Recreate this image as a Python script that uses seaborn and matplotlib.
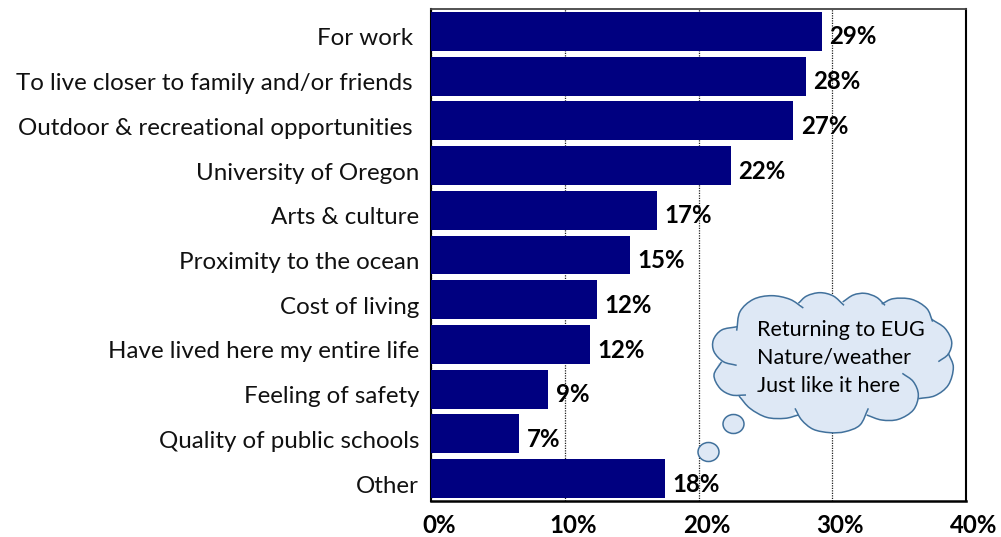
import numpy as np
import pandas as pd
import matplotlib
matplotlib.use("Agg")
import matplotlib.pyplot as plt
from matplotlib.path import Path
from matplotlib.patches import PathPatch, Ellipse
from matplotlib.transforms import Affine2D, ScaledTranslation
import seaborn as sns

categories = ["For work ", "To live closer to family and/or friends ",
              "Outdoor & recreational opportunities ", "University of Oregon",
              "Arts & culture", "Proximity to the ocean", "Cost of living",
              "Have lived here my entire life", "Feeling of safety",
              "Quality of public schools", "Other"]
values = [29.2, 28.0, 27.1, 22.4, 16.9, 14.9, 12.4, 11.9, 8.75, 6.6, 17.5]
value_labels = ["29%", "28%", "27%", "22%", "17%", "15%", "12%", "12%", "9%", "7%", "18%"]
x_ticks = [0, 10, 20, 30, 40]
x_tick_labels = ["0%", "10%", "20%", "30%", "40%"]
cloud_lines = ["Returning to EUG", "Nature/weather", "Just like it here"]

W, H = 1001, 537
sns.set_theme(style="white")
plt.rcParams['font.family'] = ['Lato', 'DejaVu Sans']
fig = plt.figure(figsize=(W / 100, H / 100), dpi=100)
L, R, T, B = 431, 966, 9, 501
ax = fig.add_axes([L / W, 1 - B / H, (R - L) / W, (B - T) / H])

df = pd.DataFrame({"reason": categories, "share": values})
sns.barplot(data=df, y="reason", x="share", orient="h", color="#000080",
            saturation=1, width=0.87, ax=ax, zorder=3, linewidth=0)
ax.set_xlim(0, 40)
ax.set_ylim(len(categories) - 0.5, -0.5)
ax.set_xlabel("")
ax.set_ylabel("")
ax.xaxis.grid(True, color="#222222", linestyle=(0, (1, 1)), linewidth=0.9, zorder=1)
ax.yaxis.grid(False)
ax.set_axisbelow(True)
ax.set_xticks(x_ticks)
ax.set_xticklabels(x_tick_labels, fontsize=17.3, fontweight="bold", color="black")
ax.tick_params(axis="x", length=0, pad=9.5)
ax.tick_params(axis="y", length=0, pad=8.5, labelsize=17.4, labelcolor="#111111")
down = ScaledTranslation(0, -5.5 / 100, fig.dpi_scale_trans)
for t in ax.get_yticklabels():
    t.set_transform(t.get_transform() + down)
right = ScaledTranslation(8 / 100, 0, fig.dpi_scale_trans)
for t in ax.get_xticklabels():
    t.set_transform(t.get_transform() + right)
for s, lw, c in [("left", 1.5, "black"), ("right", 1.5, "black"),
                 ("bottom", 1.8, "black"), ("top", 1.3, "#444444")]:
    ax.spines[s].set_visible(True)
    ax.spines[s].set_linewidth(lw)
    ax.spines[s].set_color(c)

for i, (v, lab) in enumerate(zip(values, value_labels)):
    ax.annotate(lab, (v, i), xytext=(5.4, -4), textcoords="offset points",
                ha="left", va="center", fontsize=17.3, fontweight="bold",
                color="black", zorder=5)

# Thought-cloud decoration, in pixels of the picture
px = Affine2D().scale(1, -1).translate(0, H)
def Z(p):
    p = np.asarray(p, float)
    return p / 3 + np.array([690, 280])

def smooth(pts):
    pts = Z(pts)
    P = np.vstack([2 * pts[0] - pts[1], pts, 2 * pts[-1] - pts[-2]])
    verts = [P[1]]
    codes = [Path.MOVETO]
    for i in range(1, len(P) - 2):
        verts += [P[i] + (P[i + 1] - P[i - 1]) / 6, P[i + 1] - (P[i + 2] - P[i]) / 6, P[i + 1]]
        codes += [Path.CURVE4] * 3
    return np.array(verts), codes

lobes = [
    [(140, 152), (150, 95), (190, 58), (245, 47), (300, 58), (340, 84)],
    [(325, 70), (350, 48), (390, 38), (430, 48), (462, 76)],
    [(458, 66), (490, 45), (525, 40), (560, 52), (585, 76)],
    [(575, 72), (610, 56), (665, 58), (710, 85), (728, 125)],
    [(725, 118), (765, 145), (785, 185), (775, 222), (745, 245)],
    [(775, 220), (790, 262), (775, 315), (735, 347), (685, 356)],
    [(637, 280), (670, 305), (685, 345), (670, 390), (625, 418), (575, 420), (530, 405)],
    [(535, 385), (510, 435), (465, 455), (420, 458), (370, 448), (335, 420), (315, 385)],
    [(325, 405), (285, 415), (230, 412), (180, 385), (147, 348)],
    [(168, 345), (125, 345), (90, 325), (72, 285), (95, 245)],
    [(140, 256), (100, 245), (72, 215), (70, 180), (95, 150), (142, 140)],
]
joints = [(332, 76), (460, 70), (580, 73), (727, 120), (765, 232), (685, 356),
          (533, 398), (320, 395), (155, 347), (85, 250), (140, 145)]
edge = "#41719C"
fill = "#DEE8F5"
# body of the cloud: outer lobe points with the joints between them
ring = []
for lobe, joint in zip(lobes, joints):
    ring.extend(lobe[1:-1])
    ring.append(joint)
fig.add_artist(plt.Polygon(Z(ring), closed=True, transform=px, fc=fill, ec="none", zorder=6))
for lobe in lobes:
    v, c = smooth(lobe)
    fig.add_artist(PathPatch(Path(np.vstack([v, v[0]]), c + [Path.LINETO]), transform=px,
                             fc=fill, ec="none", zorder=6))
core = Z([(140, 150), (340, 84), (462, 76), (585, 76), (728, 125), (745, 245), (775, 222), (735, 347),
          (685, 356), (625, 418), (530, 398), (420, 440), (320, 395), (230, 405), (155, 347),
          (95, 245), (140, 140)])
fig.add_artist(plt.Polygon(core, closed=True, transform=px, fc=fill, ec="none", zorder=6))
for lobe in lobes:
    v, c = smooth(lobe)
    fig.add_artist(PathPatch(Path(v, c), transform=px, fc="none", ec=edge, lw=1.1, zorder=7))
for cx, cy, wd, ht in [(733.5, 424, 21, 19), (708.5, 452, 21, 19)]:
    fig.add_artist(Ellipse((cx, cy), wd, ht, transform=px, fc=fill, ec=edge, lw=1.1, zorder=7))
for line, y in zip(cloud_lines, [330, 358, 386]):
    fig.text(757, y, line, transform=px, fontsize=15.5, va="center", ha="left",
             color="black", zorder=8)

fig.savefig("out.png", dpi=100)
